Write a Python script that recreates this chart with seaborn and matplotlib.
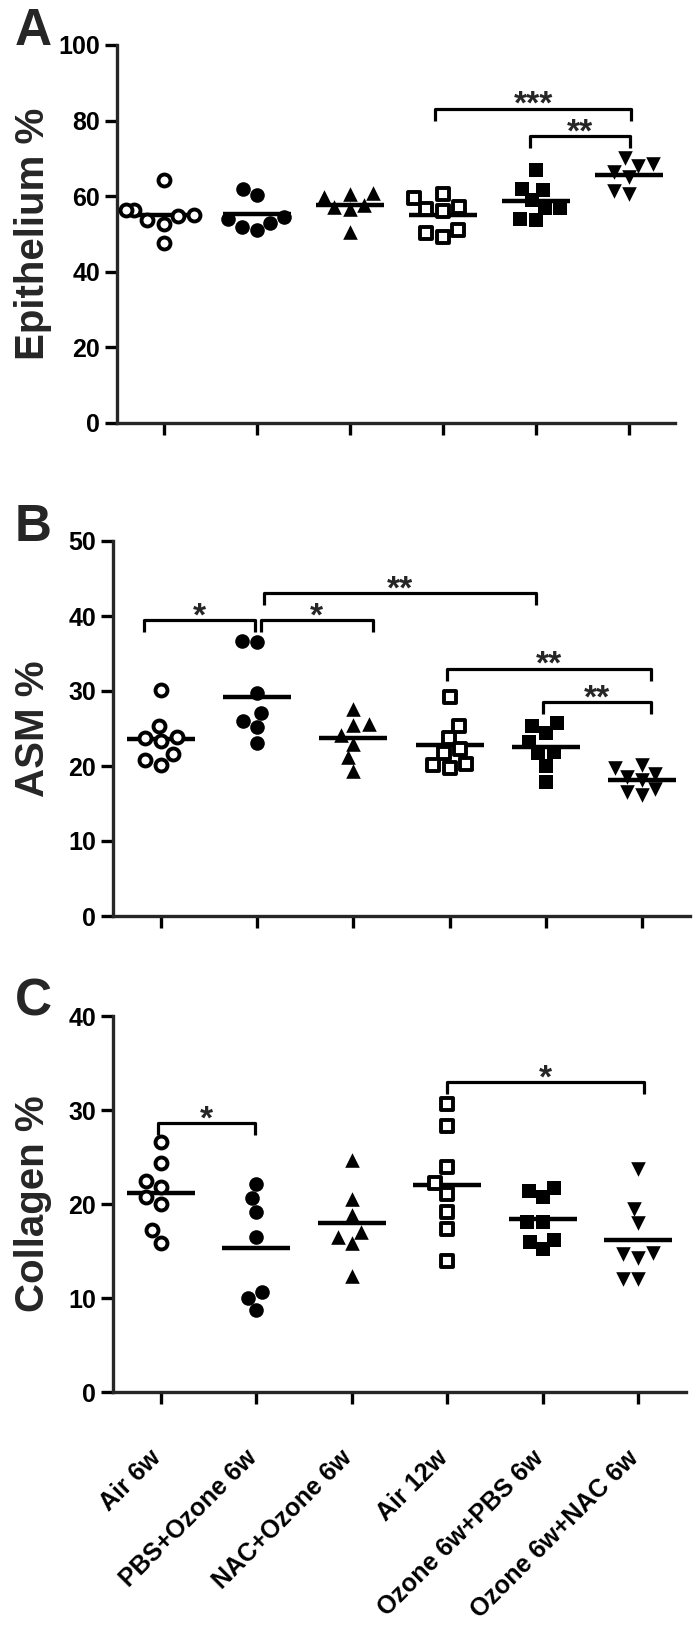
import numpy as np
import pandas as pd
import matplotlib
matplotlib.use("Agg")
import matplotlib.pyplot as plt
import matplotlib.transforms as mtransforms
import seaborn as sns

sns.set_style("ticks")
plt.rcParams["font.family"] = ["Liberation Sans", "DejaVu Sans"]
plt.rcParams["font.weight"] = "bold"
plt.rcParams["axes.labelweight"] = "bold"

# --------------------------------------
# DATA
# --------------------------------------
groups = ["Air 6w", "PBS+Ozone 6w", "NAC+Ozone 6w",
          "Air 12w", "Ozone 6w+PBS 6w", "Ozone 6w+NAC 6w"]

epithelium = [
    [64.3, 56.3, 56.3, 55.0, 54.8, 53.7, 52.6, 47.5],
    [62.0, 60.3, 54.6, 53.9, 52.8, 51.9, 51.1],
    [60.9, 60.6, 59.9, 57.7, 57.2, 56.5, 50.6],
    [60.6, 59.4, 57.2, 56.6, 56.2, 51.1, 50.3, 49.3],
    [66.9, 61.8, 61.6, 59.0, 56.8, 56.8, 54.1, 53.7],
    [70.0, 68.5, 68.0, 66.5, 65.0, 61.5, 60.5],
]
asm = [
    [30.2, 25.4, 23.9, 23.8, 23.3, 21.6, 20.8, 20.1],
    [36.7, 36.5, 29.7, 27.1, 26.0, 25.2, 23.1],
    [27.6, 25.6, 25.5, 24.2, 23.0, 21.2, 19.4],
    [29.2, 25.4, 23.8, 22.3, 21.7, 20.3, 20.1, 19.7],
    [25.7, 25.3, 24.4, 23.2, 21.9, 21.7, 20.0, 17.9],
    [20.1, 19.7, 19.0, 18.5, 18.1, 17.0, 16.5, 16.1],
]
collagen = [
    [26.6, 24.4, 22.5, 21.8, 20.7, 20.0, 17.2, 15.8],
    [22.1, 20.6, 19.1, 16.5, 10.6, 10.0, 8.7],
    [24.7, 20.5, 18.8, 17.0, 16.5, 15.8, 12.3],
    [30.6, 28.3, 23.9, 22.2, 21.1, 19.1, 17.3, 13.9],
    [21.7, 21.4, 20.7, 18.1, 18.1, 16.2, 16.0, 15.2],
    [23.7, 19.5, 18.0, 14.8, 14.7, 14.3, 12.0, 12.0],
]

# significance brackets: (from, to, height, label)
epi_brackets = [(2.92, 5.03, 83.2, "***"), (3.94, 5.02, 75.9, "**")]
asm_brackets = [(-0.18, 0.98, 39.5, "*"), (1.04, 2.20, 39.5, "*"),
                (1.07, 3.90, 43.1, "**"), (2.97, 5.09, 33.0, "**"),
                (3.97, 5.09, 28.5, "**")]
col_brackets = [(-0.03, 0.99, 28.6, "*"), (3.00, 5.06, 33.0, "*")]

# marker style per group
markers = ["o", "o", "^", "s", "s", "v"]
filled = [False, True, True, False, True, True]

# --------------------------------------
# FIGURE
# --------------------------------------
W, H = 700, 1641
fig = plt.figure(figsize=(W / 100, H / 100), dpi=100)


def px_axes(left, right, top, bottom):
    return fig.add_axes([left / W, 1 - bottom / H, (right - left) / W, (bottom - top) / H])


panels = [
    ("A", epithelium, "Epithelium %", 100, 20, epi_brackets, (117, 675, 45, 423)),
    ("B", asm, "ASM %", 50, 10, asm_brackets, (113, 690, 541, 916)),
    ("C", collagen, "Collagen %", 40, 10, col_brackets, (113, 686, 1016, 1392)),
]

for letter, values, ylabel, ymax, ystep, brackets, box in panels:
    ax = px_axes(*box)
    df = pd.DataFrame({
        "group": [g for g, v in zip(groups, values) for _ in v],
        "value": [x for v in values for x in v],
    })

    for k, g in enumerate(groups):
        sub = df[df["group"] == g]
        if filled[k]:
            sns.swarmplot(data=sub, x="group", y="value", order=groups, ax=ax,
                          marker=markers[k], color="black", size=10.5, linewidth=0)
        else:
            sns.swarmplot(data=sub, x="group", y="value", order=groups, ax=ax,
                          marker=markers[k], color="white", edgecolor="black",
                          size=8.6, linewidth=2.8)

    # mean lines
    sns.pointplot(data=df, x="group", y="value", order=groups, ax=ax,
                  estimator="mean", errorbar=None, color="black",
                  markers="_", linestyles="none", markersize=49,
                  markeredgewidth=3.2)

    # brackets
    leg = ymax * 12 / (box[3] - box[2])
    for x1, x2, y, label in brackets:
        ax.plot([x1, x1, x2, x2], [y - leg, y, y, y - leg], color="black",
                lw=2.3, solid_capstyle="butt", clip_on=False)
        ax.annotate(label, xy=((x1 + x2) / 2, y), xytext=(0, -4),
                    textcoords="offset points", ha="center", va="baseline",
                    fontsize=24, fontweight="bold")

    ax.set_xlim(-0.5, 5.5)
    ax.set_ylim(0, ymax)
    ax.set_yticks(np.arange(0, ymax + 1, ystep))
    sns.despine(ax=ax)
    for side in ["left", "bottom"]:
        ax.spines[side].set_linewidth(2.4)
    ax.tick_params(width=2.4, length=8.6, labelsize=18, pad=3.5, colors="black")
    ax.set_xlabel("")
    ax.set_ylabel(ylabel, fontsize=29, fontweight="bold")
    ax.yaxis.set_label_coords((52 - box[0]) / (box[1] - box[0]), 0.5)

    if letter == "C":
        ax.set_xticks(range(len(groups)))
        ax.set_xticklabels(groups, rotation=45, ha="right", rotation_mode="anchor",
                           fontsize=18, fontweight="bold")
        ax.tick_params(axis="x", pad=30)
        shift = mtransforms.ScaledTranslation(-12 / 100, 0, fig.dpi_scale_trans)
        for lbl in ax.get_xticklabels():
            lbl.set_transform(lbl.get_transform() + shift)
    else:
        ax.set_xticklabels([])

    fig.text(15 / W, 1 - (box[2] - 38) / H, letter, ha="left", va="top",
             fontsize=37, fontweight="bold")

fig.savefig("out.png", dpi=100)
